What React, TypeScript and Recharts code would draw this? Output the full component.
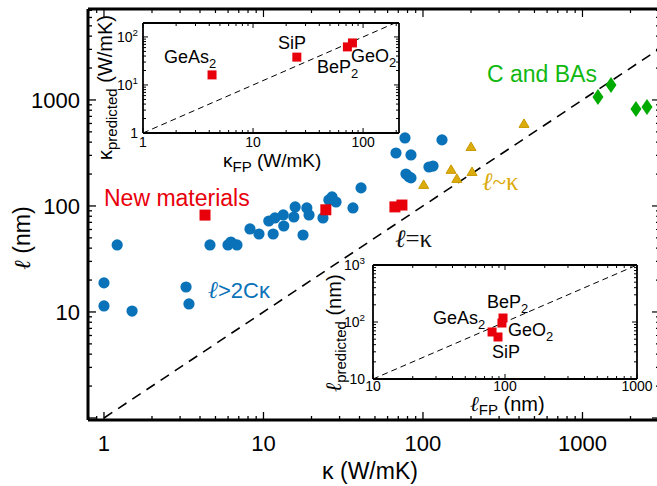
import React from 'react';
import { ScatterChart, Scatter, XAxis, YAxis, ReferenceLine } from 'recharts';

// main panel: thermal conductivity (W/mK) vs phonon mean free path (nm)
const blueKappa = [1.0, 1.0, 1.21, 1.5, 3.27, 3.41, 4.62, 5.99, 6.25, 6.82, 8.23, 9.37, 10.8, 11.8, 11.5, 13.3, 13.4, 15.5, 15.8, 18.7, 19.3, 17.7, 23.6, 25.7, 26.9, 28.5, 36.4, 40.9, 67.7, 77.1, 84.1, 131.6, 78.2, 81.7, 84.1, 109, 115.6];
const blueMfp = [18.8, 11.4, 42.9, 10.2, 17.2, 11.9, 42.9, 42.9, 45.7, 42.9, 60.7, 54.4, 72.1, 77.1, 54.4, 82.3, 64.7, 78.7, 97.9, 95.8, 82.3, 53.2, 77.1, 114, 121.6, 109, 95.8, 148, 316, 438, 303, 420, 200, 188, 184, 233, 238];

const goldKappa = [101, 150, 163, 203, 200, 430];
const goldMfp = [158, 219, 180, 209, 360, 594];

const greenKappa = [1250, 1510, 2163, 2537];
const greenMfp = [1067, 1385, 822, 859];

const newNames = ['GeAs2', 'SiP', 'BeP2', 'GeO2'];
const newKappa = [4.3, 24.6, 66.7, 73.8];
const newMfp = [82, 92, 98, 102];

// inset 1: predicted vs first-principles kappa
const kappaFP = [4.24, 25, 72, 80];
const kappaPred = [16.2, 38, 62, 75];

// inset 2: predicted vs first-principles mean free path
const mfpFP = [79.8, 88.5, 96.6, 94.8];
const mfpPred = [66.8, 54.6, 117.5, 96];

const mainXMajor = [1, 10, 100, 1000];
const mainYMajor = [10, 100, 1000];
const inset1Major = [1, 10, 100];
const inset2Major = [10, 100, 1000];

const SANS = "'Liberation Sans', Arial, Helvetica, sans-serif";
const SERIF = "'Liberation Serif', 'DejaVu Serif', serif";

const BLUE = '#0a72b8';
const RED = '#e8000b';
const GOLD = '#dcab0c';
const GREEN = '#00ab00';

const zip = (xs: number[], ys: number[]) => xs.map((x, i) => ({ x, y: ys[i] }));

function logTicks(lo: number, hi: number) {
  const out: number[] = [];
  for (let e = -1; e <= 4; e++) {
    for (let m = 1; m <= 9; m++) {
      const v = parseFloat((m * Math.pow(10, e)).toPrecision(6));
      if (v >= lo && v <= hi) out.push(v);
    }
  }
  return out;
}

const isMajor = (v: number) => Math.abs(Math.log10(v) - Math.round(Math.log10(v))) < 1e-9;

type Side = 'bottom' | 'top' | 'left' | 'right';

function makeTick(side: Side, major: number, minor: number, label?: (v: number) => React.ReactNode, font = 22, offset = 0, sw = 1.2) {
  return (props: any) => {
    const { x, y, payload } = props;
    const v = payload.value;
    const len = isMajor(v) ? major : minor;
    let x2 = x, y2 = y;
    if (side === 'bottom') y2 = y - len;
    if (side === 'top') y2 = y + len;
    if (side === 'left') x2 = x + len;
    if (side === 'right') x2 = x - len;
    const lab = label && isMajor(v) ? label(v) : null;
    return (
      <g>
        <line x1={x} y1={y} x2={x2} y2={y2} stroke="#000" strokeWidth={sw} />
        {lab != null && side === 'bottom' && (
          <text x={x} y={y + offset} textAnchor="middle" fontSize={font} fontFamily={SANS} fill="#000">{lab}</text>
        )}
        {lab != null && side === 'left' && (
          <text x={x - offset} y={y + font * 0.36} textAnchor="end" fontSize={font} fontFamily={SANS} fill="#000">{lab}</text>
        )}
      </g>
    );
  };
}

const sup = (base: string, p: string, fs: number) => (
  <>
    {base}
    <tspan dy={-fs * 0.45} fontSize={fs * 0.7}>{p}</tspan>
  </>
);

const circle = (p: any) => <circle cx={p.cx} cy={p.cy} r={5.6} fill={BLUE} />;
const square = (s: number) => (p: any) => <rect x={p.cx - s / 2} y={p.cy - s / 2} width={s} height={s} fill={RED} />;
const triangle = (p: any) => (
  <polygon points={`${p.cx},${p.cy - 5} ${p.cx + 5},${p.cy + 3.5} ${p.cx - 5},${p.cy + 3.5}`} fill={GOLD} stroke="#c99a00" strokeWidth={1} />
);
const diamond = (p: any) => (
  <polygon points={`${p.cx},${p.cy - 8} ${p.cx + 5.5},${p.cy} ${p.cx},${p.cy + 8} ${p.cx - 5.5},${p.cy}`} fill={GREEN} />
);

const mainX: [number, number] = [0.794, 3062];
const mainY: [number, number] = [0.957, 7210];
const in1X: [number, number] = [1, 212];
const in1Y: [number, number] = [1, 195];
const in2X: [number, number] = [10, 1000];
const in2Y: [number, number] = [10, 1000];

function MainChart() {
  const xt = logTicks(mainX[0], mainX[1]);
  const yt = logTicks(mainY[0], mainY[1]);
  const frame = { stroke: '#000', strokeWidth: 3 };
  return (
    <ScatterChart width={661} height={486} margin={{ top: 0, right: 0, bottom: 0, left: 0 }}>
      <XAxis xAxisId="b" type="number" dataKey="x" scale="log" domain={mainX} allowDataOverflow ticks={xt} interval={0}
        tickSize={0} tickMargin={0} tickLine={false} axisLine={frame} height={66}
        tick={makeTick('bottom', 8, 4, (v) => (mainXMajor.includes(v) ? String(v) : null), 22, 31, 1.3)} />
      <XAxis xAxisId="t" orientation="top" type="number" dataKey="x" scale="log" domain={mainX} allowDataOverflow ticks={xt} interval={0}
        tickSize={0} tickMargin={0} tickLine={false} axisLine={frame} height={9} tick={makeTick('top', 8, 4)} />
      <YAxis yAxisId="l" type="number" dataKey="y" scale="log" domain={mainY} allowDataOverflow ticks={yt} interval={0}
        tickSize={0} tickMargin={0} tickLine={false} axisLine={frame} width={88}
        tick={makeTick('left', 8, 4, (v) => (mainYMajor.includes(v) ? String(v) : null), 22, 8, 1.3)} />
      <YAxis yAxisId="r" orientation="right" type="number" dataKey="y" scale="log" domain={mainY} allowDataOverflow ticks={yt} interval={0}
        tickSize={0} tickMargin={0} tickLine={false} axisLine={frame} width={1} tick={makeTick('right', 8, 4)} />
      <ReferenceLine xAxisId="b" yAxisId="l" segment={[{ x: 1, y: 1 }, { x: 3000, y: 3000 }]} stroke="#000" strokeWidth={1.6} strokeDasharray="10 7" />
      <Scatter xAxisId="b" yAxisId="l" data={zip(blueKappa, blueMfp)} shape={circle} isAnimationActive={false} />
      <Scatter xAxisId="b" yAxisId="l" data={zip(goldKappa, goldMfp)} shape={triangle} isAnimationActive={false} />
      <Scatter xAxisId="b" yAxisId="l" data={zip(greenKappa, greenMfp)} shape={diamond} isAnimationActive={false} />
      <Scatter xAxisId="b" yAxisId="l" data={zip(newKappa, newMfp)} shape={square(11)} isAnimationActive={false} />
    </ScatterChart>
  );
}

function Inset(props: {
  w: number; h: number; m: { l: number; t: number; r: number; b: number };
  xd: [number, number]; yd: [number, number]; majors: number[];
  xs: number[]; ys: number[]; yLabel: (v: number) => React.ReactNode; xOff: number; yOff: number;
}) {
  const { w, h, m, xd, yd, xs, ys } = props;
  const xt = logTicks(xd[0], xd[1]);
  const yt = logTicks(yd[0], yd[1]);
  const frame = { stroke: '#000', strokeWidth: 1.8 };
  const hi = Math.min(xd[1], yd[1]);
  return (
    <ScatterChart width={w} height={h} margin={{ top: 0, right: 0, bottom: 0, left: 0 }}>
      <XAxis xAxisId="b" type="number" dataKey="x" scale="log" domain={xd} allowDataOverflow ticks={xt} interval={0}
        tickSize={0} tickMargin={0} tickLine={false} axisLine={frame} height={m.b}
        tick={makeTick('bottom', 5, 3, (v) => (props.majors.includes(v) ? String(v) : null), 14, props.xOff, 1)} />
      <XAxis xAxisId="t" orientation="top" type="number" dataKey="x" scale="log" domain={xd} allowDataOverflow ticks={xt} interval={0}
        tickSize={0} tickMargin={0} tickLine={false} axisLine={frame} height={m.t} tick={makeTick('top', 5, 3, undefined, 14, 0, 1)} />
      <YAxis yAxisId="l" type="number" dataKey="y" scale="log" domain={yd} allowDataOverflow ticks={yt} interval={0}
        tickSize={0} tickMargin={0} tickLine={false} axisLine={frame} width={m.l}
        tick={makeTick('left', 5, 3, props.yLabel, 14, props.yOff, 1)} />
      <YAxis yAxisId="r" orientation="right" type="number" dataKey="y" scale="log" domain={yd} allowDataOverflow ticks={yt} interval={0}
        tickSize={0} tickMargin={0} tickLine={false} axisLine={frame} width={m.r} tick={makeTick('right', 5, 3, undefined, 14, 0, 1)} />
      <ReferenceLine xAxisId="b" yAxisId="l" segment={[{ x: Math.max(xd[0], yd[0]), y: Math.max(xd[0], yd[0]) }, { x: hi, y: hi }]}
        stroke="#000" strokeWidth={1} strokeDasharray="6 4" />
      <Scatter xAxisId="b" yAxisId="l" data={zip(xs, ys)} shape={square(9)} isAnimationActive={false} />
    </ScatterChart>
  );
}

function Sub(props: { x: number; y: number; base: string; sub: string; fs?: number; color?: string }) {
  const fs = props.fs ?? 18;
  return (
    <text x={props.x} y={props.y} fontSize={fs} fontFamily={SANS} fill={props.color ?? '#000'}>
      {props.base}
      {props.sub && <tspan dy={fs * 0.3} fontSize={fs * 0.72}>{props.sub}</tspan>}
    </text>
  );
}

function Overlay() {
  return (
    <svg width={657} height={486} style={{ position: 'absolute', left: 0, top: 0, pointerEvents: 'none' }}>
      {/* main axis titles */}
      <text x={370} y={479} textAnchor="middle" fontSize={23} fontFamily={SANS}>κ (W/mK)</text>
      <text transform="translate(30,238) rotate(-90)" textAnchor="middle" fontSize={23} fontFamily={SANS}>
        <tspan fontFamily={SERIF} fontStyle="italic">ℓ</tspan> (nm)
      </text>

      {/* annotations */}
      <text x={104} y={206} fontSize={23} fontFamily={SANS} fill={RED}>New materials</text>
      <text x={487} y={82} fontSize={23} fontFamily={SANS} fill="#11b811">C and BAs</text>
      <text x={482} y={190} fontSize={25} fontFamily={SERIF} fill={GOLD}>
        <tspan fontStyle="italic">ℓ</tspan>~κ
      </text>
      <text x={395} y={247} fontSize={25} fontFamily={SERIF} fill="#111">
        <tspan fontStyle="italic">ℓ</tspan>=κ
      </text>
      <text x={208} y={298} fontSize={22} fontFamily={SANS} fill={BLUE}>
        <tspan fontFamily={SERIF} fontStyle="italic" fontSize={24}>ℓ</tspan>&gt;2Cκ
      </text>

      {/* inset 1 labels */}
      <Sub x={164} y={63} base="GeAs" sub="2" />
      <Sub x={278} y={49} base="SiP" sub="" />
      <Sub x={317} y={73} base="BeP" sub="2" />
      <Sub x={351} y={62} base="GeO" sub="2" />
      <text x={223} y={167} fontSize={19} fontFamily={SANS}>
        κ<tspan dy={5} fontSize={15}>FP</tspan><tspan dy={-5}> (W/mK)</tspan>
      </text>
      <text transform="translate(112,160) rotate(-90)" fontSize={20} fontFamily={SANS}>
        κ<tspan dy={5} fontSize={15}>predicted</tspan><tspan dy={-5}> (W/mK)</tspan>
      </text>

      {/* inset 2 labels */}
      <Sub x={487} y={308} base="BeP" sub="2" />
      <Sub x={433} y={324} base="GeAs" sub="2" />
      <Sub x={508} y={336} base="GeO" sub="2" />
      <Sub x={492} y={358} base="SiP" sub="" />
      <text x={470} y={411} fontSize={20} fontFamily={SANS}>
        <tspan fontFamily={SERIF} fontStyle="italic" fontSize={21}>ℓ</tspan>
        <tspan dy={4} fontSize={15}>FP</tspan><tspan dy={-4}> (nm)</tspan>
      </text>
      <text transform="translate(341,392) rotate(-90)" fontSize={20} fontFamily={SANS}>
        <tspan fontFamily={SERIF} fontStyle="italic" fontSize={22}>ℓ</tspan>
        <tspan dy={5} fontSize={15}>predicted</tspan><tspan dy={-5}> (nm)</tspan>
      </text>
    </svg>
  );
}

export default function App() {
  return (
    <div style={{ position: 'absolute', left: 0, top: 0, width: 657, height: 486, overflow: 'hidden', background: '#fff' }}>
      <div style={{ position: 'absolute', left: 0, top: 0 }}>
        <MainChart />
      </div>
      <div style={{ position: 'absolute', left: 90, top: 10 }}>
        <Inset w={320} h={170} m={{ l: 53, t: 13, r: 11, b: 47 }} xd={in1X} yd={in1Y} majors={inset1Major}
          xs={kappaFP} ys={kappaPred} xOff={14} yOff={5}
          yLabel={(v) => (v === 1 ? '1' : v === 10 ? sup('10', '1', 14) : v === 100 ? sup('10', '2', 14) : null)} />
      </div>
      <div style={{ position: 'absolute', left: 330, top: 255 }}>
        <Inset w={327} h={160} m={{ l: 43, t: 10, r: 20, b: 36 }} xd={in2X} yd={in2Y} majors={inset2Major}
          xs={mfpFP} ys={mfpPred} xOff={12} yOff={8}
          yLabel={(v) => (v === 10 ? '10' : v === 100 ? sup('10', '2', 14) : v === 1000 ? sup('10', '3', 14) : null)} />
      </div>
      <Overlay />
    </div>
  );
}
